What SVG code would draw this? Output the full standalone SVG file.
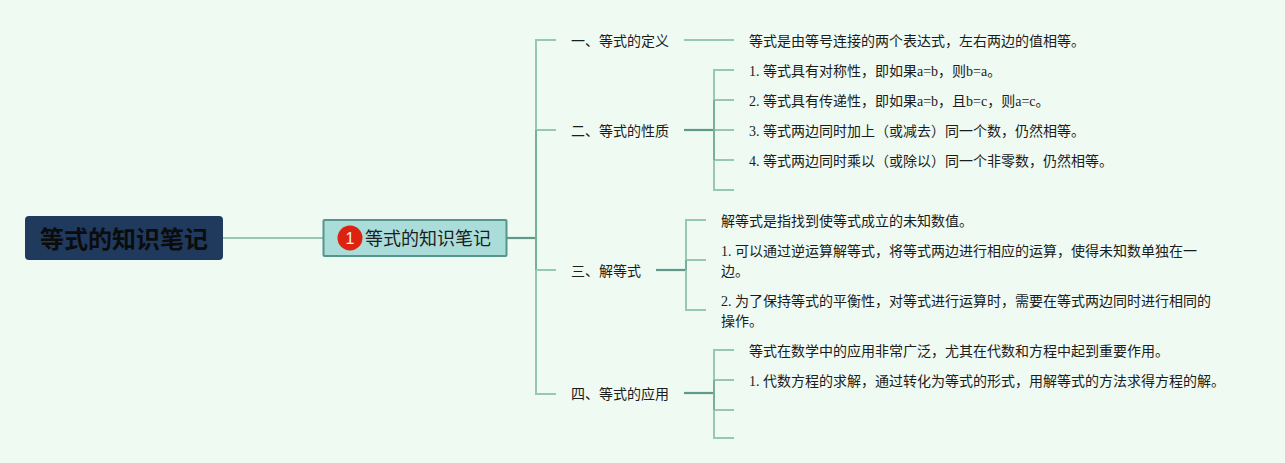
<svg xmlns="http://www.w3.org/2000/svg" width="1285" height="463" viewBox="0 0 1285 463">
<style>
text{font-family:"Liberation Serif","Noto Sans CJK SC",serif;fill:#1c1c1c;font-size:14px}
.l{fill:none;stroke:#98c8b2;stroke-width:2}
.d{fill:none;stroke:#5f998a;stroke-width:2.2}
.m{fill:none;stroke:#78ae9c;stroke-width:2}
</style>
<rect width="1285" height="463" fill="#eefaf2"/>
<g id="connectors">
<path class="l" d="M223 238H323"/>
<path class="d" d="M507 238H536"/>
<path class="l" d="M556 40H536V130"/>
<path class="l" d="M536 130H556"/>
<path class="m" d="M536 130V270"/>
<path class="l" d="M536 270H556M536 270V394H556"/>
<path class="l" d="M684 40H734"/>
<path class="d" d="M684 130H714"/>
<path class="l" d="M734 70H714V190H734M714 100H734M714 130H734M714 160H734"/>
<path class="m" d="M714 100V160"/>
<path class="d" d="M656 270H686"/>
<path class="l" d="M706 220H686V310H706M686 260H706"/>
<path class="m" d="M686 260V270"/>
<path class="d" d="M684 393H714"/>
<path class="l" d="M734 350H714V438H734M714 380H734M714 410H734"/>
<path class="m" d="M714 380V410"/>
</g>
<g id="root">
<rect x="25" y="216" width="198" height="44" rx="4" fill="#1f3a5c"/>
<text x="124" y="248" text-anchor="middle" style="font-size:24px;font-weight:700;fill:#0c0c0c">等式的知识笔记</text>
</g>
<g id="main">
<rect x="323.5" y="220" width="183" height="36" fill="#aadcd9" stroke="#55968a" stroke-width="2" rx="1"/>
<circle cx="350" cy="238" r="12.5" fill="#dc230f"/>
<text x="350" y="244" text-anchor="middle" style="font-size:16px;fill:#f4f4f4;font-family:'Liberation Sans',sans-serif">1</text>
<text x="365" y="245" style="font-size:18px">等式的知识笔记</text>
</g>
<g id="b1"><text x="571" y="46">一、等式的定义</text></g>
<g id="b2"><text x="571" y="136">二、等式的性质</text></g>
<g id="b3"><text x="571" y="276">三、解等式</text></g>
<g id="b4"><text x="571" y="399">四、等式的应用</text></g>
<g id="t1"><text x="749" y="46">等式是由等号连接的两个表达式，左右两边的值相等。</text></g>
<g id="t2"><text x="749" y="76">1. 等式具有对称性，即如果a=b，则b=a。</text></g>
<g id="t3"><text x="749" y="106">2. 等式具有传递性，即如果a=b，且b=c，则a=c。</text></g>
<g id="t4"><text x="749" y="136">3. 等式两边同时加上（或减去）同一个数，仍然相等。</text></g>
<g id="t5"><text x="749" y="166">4. 等式两边同时乘以（或除以）同一个非零数，仍然相等。</text></g>
<g id="t6"><text x="721" y="226">解等式是指找到使等式成立的未知数值。</text></g>
<g id="t7"><text x="721" y="256">1. 可以通过逆运算解等式，将等式两边进行相应的运算，使得未知数单独在一</text><text x="721" y="276">边。</text></g>
<g id="t8"><text x="721" y="306">2. 为了保持等式的平衡性，对等式进行运算时，需要在等式两边同时进行相同的</text><text x="721" y="326">操作。</text></g>
<g id="t9"><text x="749" y="356">等式在数学中的应用非常广泛，尤其在代数和方程中起到重要作用。</text></g>
<g id="t10"><text x="749" y="386">1. 代数方程的求解，通过转化为等式的形式，用解等式的方法求得方程的解。</text></g>
</svg>
